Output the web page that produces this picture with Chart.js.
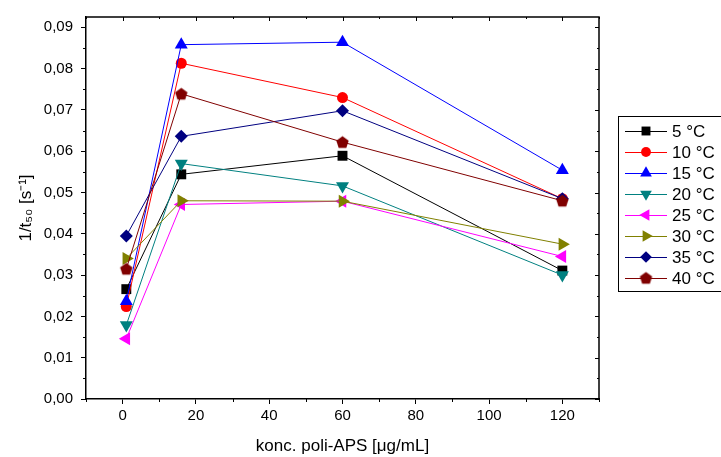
<!DOCTYPE html>
<html>
<head>
<meta charset="utf-8">
<script src="https://cdn.jsdelivr.net/npm/chart.js@4/dist/chart.umd.min.js"></script>
<style>
  body { margin: 0; background: #fff; }
  canvas { display: block; }
</style>
</head>
<body>
<canvas id="graf" width="721" height="457"></canvas>
<script>
// koncentracije (x) i vrijednosti 1/t50 po temperaturi
const konc = [1, 16, 60, 120];
const temperature = ['5 °C', '10 °C', '15 °C', '20 °C', '25 °C', '30 °C', '35 °C', '40 °C'];
const t5 = [0.0266, 0.0544, 0.0589, 0.0311];
const t10 = [0.0224, 0.0813, 0.0730, 0.0485];
const t15 = [0.0237, 0.0858, 0.0864, 0.0554];
const t20 = [0.0179, 0.0570, 0.0516, 0.0300];
const t25 = [0.0146, 0.0471, 0.0479, 0.0345];
const t30 = [0.0340, 0.0480, 0.0479, 0.0375];
const t35 = [0.0395, 0.0636, 0.0698, 0.0485];
const t40 = [0.0315, 0.0739, 0.0622, 0.0480];
const serije = [t5, t10, t15, t20, t25, t30, t35, t40];

const boje = ['#000000', '#ff0000', '#0000ff', '#008080', '#ff00ff', '#808000', '#000080', '#800000'];
const FONT = "'Liberation Sans', Arial, sans-serif";

function pentagon(color, r) {
  const c = document.createElement('canvas');
  const s = Math.ceil(2 * r + 2);
  c.width = s; c.height = s;
  const g = c.getContext('2d');
  g.beginPath();
  for (let k = 0; k < 5; k++) {
    const a = -Math.PI / 2 + k * 2 * Math.PI / 5;
    const px = s / 2 + r * Math.cos(a), py = s / 2 + r * Math.sin(a) + 0.5;
    if (k === 0) g.moveTo(px, py); else g.lineTo(px, py);
  }
  g.closePath();
  g.fillStyle = color;
  g.fill();
  return c;
}

const oblici = ['rect', 'circle', 'triangle', 'triangle', 'triangle', 'triangle', 'rectRot', pentagon('#800000', 6.5)];
const rotacije = [0, 0, 0, 180, 270, 90, 0, 0];
const radijusi = [7, 5.5, 7.5, 7.5, 7.5, 7.5, 6.5, 6.5];

const datasets = serije.map((s, i) => ({
  label: temperature[i],
  data: s.map((v, j) => ({ x: konc[j], y: v })),
  borderColor: boje[i],
  backgroundColor: boje[i],
  borderWidth: 1,
  pointStyle: oblici[i],
  pointRotation: rotacije[i],
  pointRadius: radijusi[i],
  pointBorderWidth: 0,
  tension: 0,
  order: -i
}));

const jeGlavniX = v => Math.round(v) % 20 === 0;
const jeGlavniY = v => Math.round(v * 1000) % 10 === 0;

// okvir, male crtice i crtice na gornjoj/desnoj osi
const okvir = {
  id: 'okvir',
  afterDraw(chart) {
    const { ctx, chartArea: a, scales: { x, y } } = chart;
    ctx.save();
    ctx.strokeStyle = '#000';
    ctx.lineWidth = 1.5;
    ctx.beginPath();
    ctx.moveTo(a.left, a.top); ctx.lineTo(a.right, a.top); ctx.lineTo(a.right, a.bottom);
    ctx.stroke();
    ctx.lineWidth = 1;
    ctx.beginPath();
    x.ticks.forEach(t => {
      const px = Math.round(x.getPixelForValue(t.value)) + 0.5;
      const big = jeGlavniX(t.value);
      if (!big) { ctx.moveTo(px, a.bottom); ctx.lineTo(px, a.bottom + 3); }
      ctx.moveTo(px, a.top); ctx.lineTo(px, a.top + (big ? 4 : 2));
    });
    y.ticks.forEach(t => {
      const py = Math.round(y.getPixelForValue(t.value)) + 0.5;
      const big = jeGlavniY(t.value);
      if (!big) { ctx.moveTo(a.left, py); ctx.lineTo(a.left - 3, py); }
      ctx.moveTo(a.right, py); ctx.lineTo(a.right - (big ? 4 : 2), py);
    });
    ctx.stroke();

    // legenda
    const lx = 618, ly = 116, korak = 21;
    ctx.lineWidth = 1;
    ctx.strokeStyle = '#000';
    ctx.strokeRect(lx + 0.5, ly + 0.5, 130, 8 * korak + 7);
    ctx.font = '17px ' + FONT;
    ctx.textBaseline = 'middle';
    chart.data.datasets.forEach((d, i) => {
      const cy = ly + 15 + i * korak;
      ctx.strokeStyle = d.borderColor;
      ctx.beginPath();
      ctx.moveTo(lx + 7, cy + 0.5); ctx.lineTo(lx + 49, cy + 0.5);
      ctx.stroke();
      ctx.fillStyle = d.backgroundColor;
      ctx.strokeStyle = d.borderColor;
      Chart.helpers.drawPoint(ctx, { pointStyle: d.pointStyle, radius: d.pointRadius * 0.9, rotation: d.pointRotation, borderWidth: 0 }, lx + 28, cy);
      ctx.fillStyle = '#000';
      ctx.fillText(temperature[i], lx + 54, cy + 1);
    });
    ctx.restore();
  }
};

const graf = new Chart(document.getElementById('graf'), {
  type: 'line',
  data: { datasets: datasets },
  options: {
    responsive: false,
    animation: false,
    devicePixelRatio: 1,
    layout: { padding: { top: 12, right: 122, left: 0, bottom: 0 } },
    plugins: { legend: { display: false }, tooltip: { enabled: false } },
    scales: {
      x: {
        type: 'linear',
        min: -10,
        max: 130,
        afterFit: s => { s.height = 58; },
        border: { display: true, color: '#000', width: 1.5 },
        grid: {
          drawOnChartArea: false,
          drawTicks: true,
          tickLength: 5,
          tickColor: c => jeGlavniX(c.tick.value) ? '#000' : 'rgba(0,0,0,0)'
        },
        ticks: {
          stepSize: 10,
          autoSkip: false,
          maxRotation: 0,
          padding: 3,
          color: '#000',
          font: { family: FONT, size: 15 },
          callback: v => jeGlavniX(v) ? String(v) : ''
        },
        title: {
          display: true,
          text: 'konc. poli-APS [μg/mL]',
          color: '#000',
          font: { family: FONT, size: 17 },
          padding: { top: 4, bottom: 0 }
        }
      },
      y: {
        min: 0,
        max: 0.0925,
        afterFit: s => { s.width = 86; },
        border: { display: true, color: '#000', width: 1.5 },
        grid: {
          drawOnChartArea: false,
          drawTicks: true,
          tickLength: 5,
          tickColor: c => jeGlavniY(c.tick.value) ? '#000' : 'rgba(0,0,0,0)'
        },
        ticks: {
          stepSize: 0.005,
          includeBounds: false,
          autoSkip: false,
          padding: 8,
          color: '#000',
          font: { family: FONT, size: 15 },
          callback: v => jeGlavniY(v) ? v.toFixed(2).replace('.', ',') : ''
        },
        title: {
          display: true,
          text: '1/t₅₀ [s⁻¹]',
          color: '#000',
          font: { family: FONT, size: 17 },
          padding: { top: 16, bottom: 0 }
        }
      }
    }
  },
  plugins: [okvir]
});
</script>
</body>
</html>
